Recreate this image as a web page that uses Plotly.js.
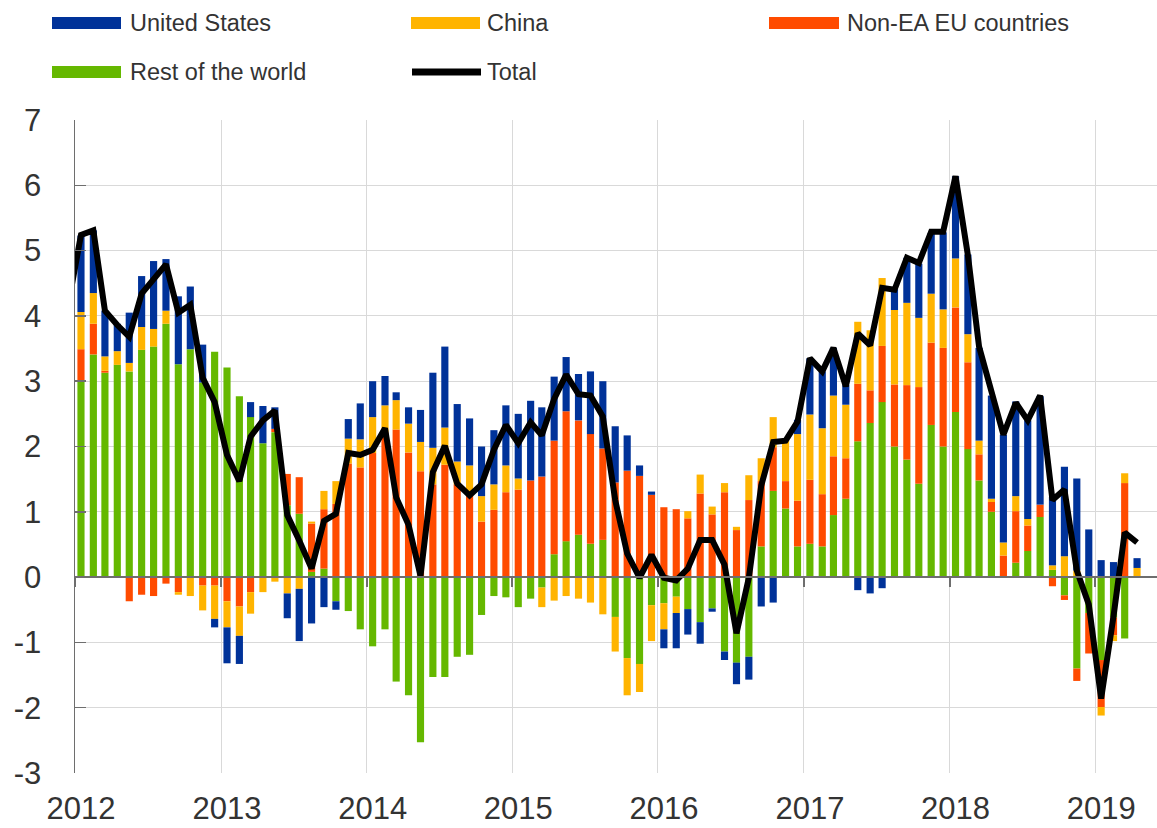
<!DOCTYPE html>
<html>
<head>
<meta charset="utf-8">
<script src="https://cdn.plot.ly/plotly-3.0.1.min.js"></script>
<style>
  html, body { margin: 0; padding: 0; background: #ffffff; }
  #chart { width: 1157px; height: 828px; }
</style>
</head>
<body>
<div id="chart"></div>
<script>
// Monthly data, January 2012 - April 2019 (percentage points)
const startYear = 2012;
const nMonths = 88;

const restOfWorld = [
  2.99, 3.41, 3.13, 3.25, 3.15, 3.48, 3.53, 3.88, 3.26, 3.49, 2.98, 3.45,
  3.21, 2.77, 2.45, 2.05, 2.22, 1.10, 0.97, 0.08, 0.13, -0.37, -0.52, -0.80,
  -1.06, -0.80, -1.60, -1.81, -2.53, -1.53, -1.53, -1.22, -1.19, -0.58, -0.29, -0.31,
  -0.46, -0.33, -0.16, 0.35, 0.55, 0.65, 0.51, 0.57, -0.61, -1.24, -1.33, -0.43,
  -0.40, -0.30, -0.49, -0.69, -0.48, -1.14, -1.31, -1.22, 0.47, 1.32, 1.05, 0.47,
  0.51, 0.47, 0.95, 1.20, 2.08, 2.36, 2.68, 2.00, 1.80, 1.43, 2.33, 2.00,
  2.53, 1.96, 1.48, 1.00, 0.00, 0.22, 0.40, 0.92, 0.11, -0.28, -1.40, -0.55,
  -1.27, -0.62, -0.94, 0.00
];

const nonEaEu = [
  0.50, 0.47, 0.03, 0.00, -0.37, -0.27, -0.29, -0.10, -0.23, 0.00, -0.13, -0.13,
  -0.37, -0.45, -0.23, 0.00, 0.05, 0.48, 0.56, 0.74, 0.91, 1.12, 1.74, 1.68,
  1.90, 2.22, 2.26, 1.91, 1.62, 1.42, 1.72, 1.42, 1.28, 0.85, 1.03, 1.30,
  1.34, 1.48, 1.54, 1.74, 1.99, 1.75, 1.68, 1.40, 1.45, 1.63, 1.55, 1.26,
  1.07, 1.04, 0.90, 1.28, 0.96, 1.30, 0.72, 1.18, 1.00, 0.67, 0.42, 0.70,
  0.98, 0.80, 0.90, 0.62, 0.88, 0.50, 0.86, 0.95, 1.14, 1.48, 1.26, 1.51,
  1.60, 1.33, 0.40, 0.15, 0.33, 0.79, 0.39, 0.19, -0.14, -0.07, -0.19, -0.62,
  -0.72, -0.27, 1.44, 0.00
];

const china = [
  0.57, 0.47, 0.22, 0.21, 0.13, 0.35, 0.27, 0.20, -0.04, -0.29, -0.38, -0.51,
  -0.40, -0.45, -0.33, -0.23, -0.07, -0.25, -0.18, 0.03, 0.28, 0.35, 0.38, 0.43,
  0.55, 0.41, 0.45, 0.44, 0.45, 0.56, 0.57, 0.35, 0.43, 0.39, 0.39, 0.41,
  0.17, 0.00, -0.30, -0.36, -0.29, -0.33, -0.39, -0.57, -0.53, -0.57, -0.43, -0.55,
  -0.40, -0.25, 0.11, 0.29, 0.12, 0.14, 0.05, 0.38, 0.35, 0.46, 0.65, 1.02,
  1.00, 1.01, 0.93, 0.82, 0.95, 0.92, 1.04, 1.14, 1.26, 1.06, 0.75, 0.59,
  0.75, 0.43, 0.21, 0.05, 0.20, 0.23, 0.10, 0.00, 0.07, 0.32, 0.10, 0.00,
  -0.13, -0.09, 0.15, 0.14
];

const unitedStates = [
  1.17, 0.96, 0.70, 0.42, 0.77, 0.78, 1.04, 0.79, 1.04, 0.96, 0.58, -0.13,
  -0.55, -0.43, 0.23, 0.57, 0.33, -0.38, -0.80, -0.71, -0.46, -0.13, 0.30, 0.55,
  0.55, 0.45, 0.12, 0.25, 0.49, 1.15, 1.24, 0.88, 0.72, 0.76, 0.83, 0.92,
  0.99, 1.22, 1.06, 0.98, 0.83, 0.71, 0.96, 1.03, 0.86, 0.54, 0.16, 0.05,
  -0.29, -0.54, -0.39, -0.33, -0.05, -0.13, -0.33, -0.35, -0.45, -0.39, 0.00, 0.22,
  0.86, 0.87, 0.73, 0.30, -0.20, -0.25, -0.17, 0.32, 0.69, 0.83, 0.93, 1.18,
  1.26, 1.22, 1.42, 1.58, 1.65, 1.45, 1.51, 1.66, 1.05, 1.37, 1.41, 0.73,
  0.26, 0.23, 0.00, 0.15
];

// Total line: December 2011 (clipped at the left edge) then Jan 2012 - Apr 2019
const totalDec2011 = 4.20;
const total = [
  5.24, 5.31, 4.08, 3.86, 3.68, 4.34, 4.58, 4.79, 4.05, 4.17, 3.05, 2.68,
  1.87, 1.47, 2.15, 2.40, 2.55, 0.95, 0.56, 0.13, 0.86, 0.97, 1.90, 1.87,
  1.95, 2.28, 1.22, 0.80, 0.02, 1.61, 2.01, 1.43, 1.25, 1.42, 1.95, 2.33,
  2.05, 2.37, 2.17, 2.73, 3.10, 2.80, 2.78, 2.46, 1.18, 0.36, -0.01, 0.34,
  -0.01, -0.05, 0.13, 0.57, 0.57, 0.19, -0.86, -0.01, 1.40, 2.07, 2.09, 2.38,
  3.35, 3.15, 3.51, 2.92, 3.73, 3.55, 4.43, 4.40, 4.89, 4.81, 5.29, 5.29,
  6.14, 4.93, 3.53, 2.80, 2.18, 2.67, 2.40, 2.78, 1.18, 1.34, 0.10, -0.42,
  -1.86, -0.60, 0.68, 0.53
];

const yearTicks = ['2012', '2013', '2014', '2015', '2016', '2017', '2018', '2019'];
const yTickValues = [-3, -2, -1, 0, 1, 2, 3, 4, 5, 6, 7];
const yTickLabels = ['-3', '-2', '-1', '0', '1', '2', '3', '4', '5', '6', '7'];

const seriesColors = {
  'United States': '#003299',
  'China': '#FFB400',
  'Non-EA EU countries': '#FF4B00',
  'Rest of the world': '#65B800',
  'Total': '#000000'
};

// month dates (mid-month)
const months = [];
for (let i = 0; i < nMonths; i++) {
  const y = startYear + Math.floor(i / 12);
  const m = (i % 12) + 1;
  months.push(y + '-' + String(m).padStart(2, '0') + '-16');
}
const lineDates = ['2011-12-16'].concat(months);
const lineValues = [totalDec2011].concat(total);
const tickDates = yearTicks.map(y => y + '-01-01');
const xRange = ['2012-01-01', '2019-06-05'];

function barTrace(name, values) {
  return {
    type: 'bar', name: name, x: months, y: values,
    marker: { color: seriesColors[name], line: { width: 0 } },
    showlegend: false, hoverinfo: 'x+y+name'
  };
}

const traces = [
  barTrace('Rest of the world', restOfWorld),
  barTrace('Non-EA EU countries', nonEaEu),
  barTrace('China', china),
  barTrace('United States', unitedStates),
  {
    type: 'scatter', mode: 'lines', name: 'Total', x: lineDates, y: lineValues,
    line: { color: seriesColors['Total'], width: 6, shape: 'linear' },
    showlegend: false
  },
  { type: 'scatter', mode: 'lines', x: [], y: [], xaxis: 'x2', yaxis: 'y', showlegend: false, hoverinfo: 'skip' }
];

const fontFamily = '"Liberation Sans", Arial, Helvetica, sans-serif';
const textColor = '#333333';

// Custom legend (wide swatches like the original)
const PL = 75, PW = 1082, PT = 120, PH = 653;
const px = v => (v - PL) / PW;
const py = v => (PT + PH - v) / PH;
const legendItems = [
  { name: 'United States', sx0: 52, sx1: 121, tx: 128, cy: 23, kind: 'bar' },
  { name: 'China', sx0: 411, sx1: 480, tx: 485, cy: 23, kind: 'bar' },
  { name: 'Non-EA EU countries', sx0: 769, sx1: 839, tx: 845, cy: 23, kind: 'bar' },
  { name: 'Rest of the world', sx0: 52, sx1: 121, tx: 128, cy: 72, kind: 'bar' },
  { name: 'Total', sx0: 412, sx1: 481, tx: 485, cy: 72, kind: 'line' }
];
const shapes = [];
const annotations = [];
legendItems.forEach(it => {
  if (it.kind === 'bar') {
    shapes.push({ type: 'rect', xref: 'paper', yref: 'paper',
      x0: px(it.sx0), x1: px(it.sx1), y0: py(it.cy + 6), y1: py(it.cy - 6),
      fillcolor: seriesColors[it.name], line: { width: 0 } });
  } else {
    shapes.push({ type: 'line', xref: 'paper', yref: 'paper',
      x0: px(it.sx0), x1: px(it.sx1), y0: py(it.cy), y1: py(it.cy),
      line: { color: seriesColors[it.name], width: 7 } });
  }
  annotations.push({ xref: 'paper', yref: 'paper', x: px(it.tx), y: py(it.cy),
    xanchor: 'left', yanchor: 'middle', showarrow: false, text: it.name,
    font: { family: fontFamily, size: 23.5, color: textColor } });
});

const layout = {
  width: 1157, height: 828,
  margin: { l: PL, r: 0, t: PT, b: 828 - PT - PH, pad: 0 },
  paper_bgcolor: '#ffffff', plot_bgcolor: '#ffffff',
  barmode: 'relative', bargap: 0.36,
  showlegend: false,
  font: { family: fontFamily, color: textColor },
  xaxis: {
    type: 'date', range: xRange,
    tickmode: 'array', tickvals: tickDates, ticktext: yearTicks,
    showgrid: true, gridcolor: '#d9d9d9', gridwidth: 1,
    zeroline: false, showline: false, ticks: '',
    tickfont: { family: fontFamily, size: 31, color: textColor },
    ticklabelshift: 6, ticklabelstandoff: 14
  },
  xaxis2: {
    type: 'date', range: xRange, overlaying: 'x', anchor: 'free', position: 0.3,
    tickmode: 'array', tickvals: tickDates, ticks: 'outside', ticklen: 9,
    tickcolor: '#6e6e6e', tickwidth: 2, showticklabels: false,
    showgrid: false, zeroline: false,
    showline: true, linecolor: '#6e6e6e', linewidth: 2, layer: 'above traces'
  },
  yaxis: {
    range: [-3, 7], tickmode: 'array', tickvals: yTickValues, ticktext: yTickLabels,
    showgrid: true, gridcolor: '#d9d9d9', gridwidth: 1,
    zeroline: false,
    showline: true, linecolor: '#6e6e6e', linewidth: 1.5,
    ticks: 'inside', ticklen: 11, tickcolor: '#6e6e6e', tickwidth: 1.5,
    tickfont: { family: fontFamily, size: 31, color: textColor },
    ticklabelstandoff: 26
  },
  shapes: shapes,
  annotations: annotations
};

Plotly.newPlot('chart', traces, layout, { displayModeBar: false, staticPlot: true });
</script>
</body>
</html>
